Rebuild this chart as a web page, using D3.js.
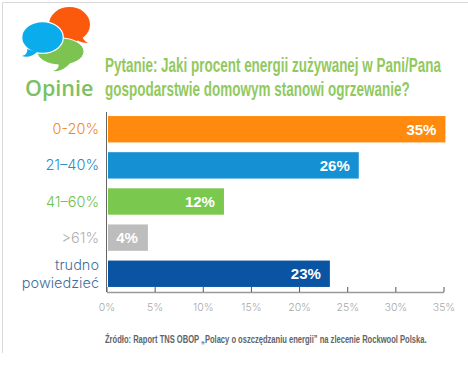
<!DOCTYPE html>
<html>
<head>
<meta charset="utf-8">
<script src="https://cdnjs.cloudflare.com/ajax/libs/d3/7.8.5/d3.min.js"></script>
<style>
html, body { margin: 0; padding: 0; background: #fff; }
svg { display: block; }
.title { font-family: "Liberation Sans", sans-serif; font-weight: 700; font-size: 19.5px; fill: #92c95f; }
.cat { font-family: Inter, "Liberation Sans", sans-serif; font-weight: 300; font-size: 14.5px; text-anchor: end; }
.val { font-family: "Liberation Sans", sans-serif; font-weight: 700; font-size: 15px; fill: #fff; text-anchor: end; }
.x-axis text { font-family: Inter, "Liberation Sans", sans-serif; font-weight: 300; font-size: 10.5px; fill: #a8a8a8; }
.source { font-family: "Liberation Sans", sans-serif; font-weight: 700; font-size: 10.8px; fill: #5f6468; }
</style>
</head>
<body>
<div class="chart"></div>
<script>
var svgWidth = 468;
var svgHeight = 380;

// chart data
var categories = ["0-20%", "21–40%", "41–60%", ">61%", "trudno|powiedzieć"];
var values = [35.2, 26.2, 12.2, 4.3, 23.2];
var valueLabels = ["35%", "26%", "12%", "4%", "23%"];
var barColors = ["#ff8a0d", "#1590d2", "#7ac94e", "#bdbdbd", "#0a55a3"];
var labelColors = ["#f28a1c", "#2a8cc4", "#72bf4e", "#b0b0b0", "#3f6f9f"];
var tickValues = [0, 5, 10, 15, 20, 25, 30, 35];

var titleLines = [
  "Pytanie: Jaki procent energii zużywanej w Pani/Pana",
  "gospodarstwie domowym stanowi ogrzewanie?"
];
var sourceText = "Źródło: Raport TNS OBOP „Polacy o oszczędzaniu energii” na zlecenie Rockwool Polska.";

var svg = d3
  .select(".chart")
  .append("svg")
  .attr("width", svgWidth)
  .attr("height", svgHeight);

// no condensed face installed, so squeeze a text to the width it has in the original
function condensed(sel, x, y, targetWidth) {
  var ratio = targetWidth / sel.node().getComputedTextLength();
  sel.attr("transform", `translate(${x}, ${y}) scale(${ratio}, 1)`);
}

// thin frame of the original page, top and left only
svg.append("path")
  .attr("d", "M2.5,353V2.5H468")
  .attr("fill", "none")
  .attr("stroke", "#d9d9d9");

// scales
var xScale = d3.scaleLinear().domain([0, 35]).range([106.5, 443.5]);
var yScale = d3.scaleBand()
  .domain(categories)
  .range([111, 292])
  .paddingInner(0.27)
  .paddingOuter(0.14);

// speech bubbles logo
var logo = svg.append("g");
logo.append("ellipse")
  .attr("cx", 69.5).attr("cy", 24.5).attr("rx", 20.5).attr("ry", 17.5)
  .attr("fill", "#fb5a0c");
logo.append("path")
  .attr("d", "M74,34 C76,39 78,43 88,43 C84,41 82,38 82,34Z")
  .attr("fill", "#fb5a0c");
logo.append("ellipse")
  .attr("cx", 60.5).attr("cy", 51.5).attr("rx", 23.5).attr("ry", 13.5)
  .attr("fill", "#7cc352").attr("stroke", "#fff").attr("stroke-width", 1);
logo.append("path")
  .attr("d", "M58,63 C60,67 57,70 53,71 C60,72 66,68 70,63Z")
  .attr("fill", "#7cc352");
logo.append("ellipse")
  .attr("cx", 42.5).attr("cy", 37.5).attr("rx", 20.8).attr("ry", 15.8)
  .attr("fill", "#0bacec").attr("stroke", "#fff").attr("stroke-width", 1.2);
logo.append("path")
  .attr("d", "M27,49 C28,52 26,55 22,56 C27,58 33,56 37,52Z")
  .attr("fill", "#0bacec");

svg.append("text")
  .attr("x", 25)
  .attr("y", 96)
  .attr("font-family", "'Open Sans', sans-serif")
  .attr("font-weight", 600)
  .attr("font-size", 21.5)
  .attr("fill", "#7cc064")
  .text("Opinie");

// question
var titleWidths = [336, 305];
titleLines.forEach(function(line, i) {
  var t = svg.append("text")
    .attr("class", "title")
    .text(line);
  condensed(t, 105, 72 + i * 23.5, titleWidths[i]);
});

// bars
svg.selectAll(".bar")
  .data(categories)
  .enter()
  .append("rect")
  .attr("class", "bar")
  .attr("x", xScale(0) + 1.5)
  .attr("y", d => yScale(d))
  .attr("width", (d, i) => xScale(values[i]) - xScale(0) - 1.5)
  .attr("height", yScale.bandwidth())
  .attr("fill", (d, i) => barColors[i]);

// value labels inside the bars
svg.selectAll(".val")
  .data(categories)
  .enter()
  .append("text")
  .attr("class", "val")
  .attr("x", (d, i) => xScale(values[i]) - (i === 3 ? 10 : 9))
  .attr("y", d => yScale(d) + yScale.bandwidth() / 2 + 5.5)
  .text((d, i) => valueLabels[i]);

// category labels, "|" splits a label in two lines
categories.forEach(function(cat, i) {
  var parts = cat.split("|");
  var mid = yScale(cat) + yScale.bandwidth() / 2;
  parts.forEach(function(part, j) {
    svg.append("text")
      .attr("class", "cat")
      .attr("x", 99)
      .attr("y", mid + 5 + (j - (parts.length - 1) / 2) * 18.5)
      .attr("fill", labelColors[i])
      .text(part);
  });
});

// axis lines
var bottomAxis = d3.axisBottom(xScale)
  .tickValues(tickValues)
  .tickFormat(d => d + "%")
  .tickSizeOuter(0)
  .tickSizeInner(-5)
  .tickPadding(12);

var xAxis = svg.append("g")
  .attr("class", "x-axis")
  .attr("transform", "translate(0, 292)")
  .call(bottomAxis);

xAxis.select(".domain").attr("stroke", "#999").attr("stroke-width", 1.5);
xAxis.selectAll(".tick line").attr("stroke", "#555");

svg.append("line")
  .attr("x1", xScale(0)).attr("x2", xScale(0))
  .attr("y1", 112).attr("y2", 292)
  .attr("stroke", "#666")
  .attr("stroke-width", 1);

// source
var source = svg.append("text")
  .attr("class", "source")
  .text(sourceText);
condensed(source, 105, 343, 322);
</script>
</body>
</html>
